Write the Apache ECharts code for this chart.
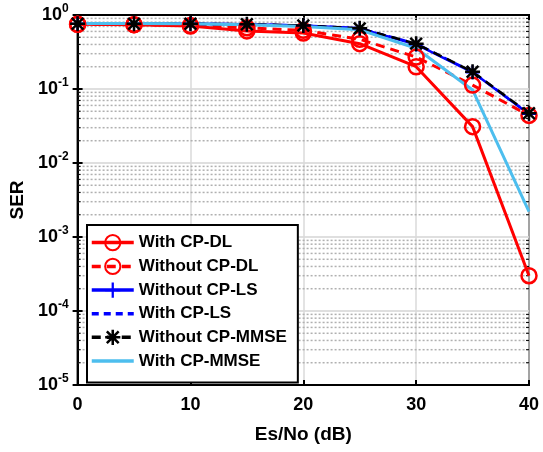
<!DOCTYPE html>
<html>
<head>
<meta charset="utf-8">
<script src="https://cdn.jsdelivr.net/npm/echarts@6/dist/echarts.min.js"></script>
<style>
html,body{margin:0;padding:0;background:#fff;}
#c{width:543px;height:452px;}
</style>
</head>
<body>
<div id="c"></div>
<script>
// ---- data ----
const snrDb = [0, 5, 10, 15, 20, 25, 30, 35, 40];
const withCpDl      = [0.75, 0.74, 0.71, 0.61, 0.57, 0.41, 0.20, 0.031, 0.0003];
const withoutCpDl   = [0.75, 0.74, 0.72, 0.67, 0.62, 0.47, 0.27, 0.113, 0.044];
const withoutCpLs   = [0.76, 0.76, 0.76, 0.75, 0.72, 0.66, 0.40, 0.168, 0.046];
const withCpLs      = [0.76, 0.76, 0.76, 0.75, 0.72, 0.66, 0.41, 0.170, 0.046];
const withoutCpMmse = [0.76, 0.76, 0.76, 0.75, 0.72, 0.66, 0.41, 0.171, 0.047];
const withCpMmse    = [0.77, 0.77, 0.76, 0.74, 0.70, 0.63, 0.355, 0.097, 0.0022];
const seriesNames = ['With CP-DL', 'Without CP-DL', 'Without CP-LS', 'With CP-LS', 'Without CP-MMSE', 'With CP-MMSE'];
const xTicks = [0, 10, 20, 30, 40];
const yDecadeExponents = [-5, -4, -3, -2, -1, 0];
const minorMantissas = [2, 3, 4, 5, 6, 7, 8, 9];

// minor grid values (2..9 x 10^k)
const minorVals = [];
yDecadeExponents.slice(0, -1).forEach(e => minorMantissas.forEach(m => minorVals.push(m * Math.pow(10, e))));

const FONT = "'Liberation Sans', Arial, sans-serif";
const starPath = 'path://M1,8.5L19,8.5L19,11.5L1,11.5Z M8.5,1L11.5,1L11.5,19L8.5,19Z M1.94,4.06L4.06,1.94L18.06,15.94L15.94,18.06Z M15.94,1.94L18.06,4.06L4.06,18.06L1.94,15.94Z';
const plusPath = 'path://M0,8.5L20,8.5L20,11.5L0,11.5Z M8.5,0L11.5,0L11.5,20L8.5,20Z';

function pairs(ys) { return snrDb.map((x, i) => [x, ys[i]]); }

const chart = echarts.init(document.getElementById('c'), null, {renderer: 'canvas'});

const axisLabelY = {
  fontFamily: FONT, fontWeight: 'bold', fontSize: 17, color: '#000', margin: 9,
  formatter: function (v) {
    const e = Math.round(Math.log10(v));
    return '{b|10}{s|' + e + '}';
  },
  rich: {
    b: {fontFamily: FONT, fontWeight: 'bold', fontSize: 18, color: '#000'},
    s: {fontFamily: FONT, fontWeight: 'bold', fontSize: 12, color: '#000', verticalAlign: 'top', padding: [0, 0, 12, 0]}
  }
};

const noSymbolLegend = {color: 'rgba(0,0,0,0)', borderColor: 'rgba(0,0,0,0)', borderWidth: 0, opacity: 0};

const option = {
  backgroundColor: '#fff',
  animation: false,
  grid: {left: 77, right: 14, top: 15, bottom: 67, show: true, borderColor: '#000', borderWidth: 2, backgroundColor: 'transparent'},
  legend: {
    data: seriesNames.map(n => (n === 'With CP-LS' || n === 'With CP-MMSE') ? {name: n, itemStyle: noSymbolLegend} : {name: n}),
    orient: 'vertical',
    left: 87, top: 225,
    padding: [9, 11, 13, 3],
    itemGap: 6.6,
    itemWidth: 42, itemHeight: 19,
    lineStyle: {width: 3.5},
    backgroundColor: '#fff',
    borderColor: '#000', borderWidth: 2,
    textStyle: {fontFamily: FONT, fontWeight: 'bold', fontSize: 17, color: '#000'},
    selectedMode: false
  },
  xAxis: [{
    type: 'value', min: 0, max: 40, interval: 10,
    name: 'Es/No (dB)', nameLocation: 'middle', nameGap: 40,
    nameTextStyle: {fontFamily: FONT, fontWeight: 'bold', fontSize: 19, color: '#000'},
    axisLine: {show: true, lineStyle: {color: '#000', width: 2}},
    axisTick: {show: true, inside: true, length: 5, lineStyle: {color: '#000', width: 2}},
    axisLabel: {fontFamily: FONT, fontWeight: 'bold', fontSize: 18, color: '#000', margin: 11,
      formatter: v => (xTicks.indexOf(v) >= 0 ? String(v) : '')},
    splitLine: {show: true, lineStyle: {color: '#dadada', width: 1.5}}
  }, {
    type: 'value', min: 0, max: 40, interval: 10, position: 'top',
    axisLine: {show: true, lineStyle: {color: '#000', width: 2}},
    axisTick: {show: true, inside: true, length: 5, lineStyle: {color: '#000', width: 2}},
    axisLabel: {show: false}, splitLine: {show: false}
  }],
  yAxis: [{
    type: 'log', logBase: 10, min: 1e-5, max: 1,
    name: 'SER', nameLocation: 'middle', nameGap: 50, nameRotate: 90,
    nameTextStyle: {fontFamily: FONT, fontWeight: 'bold', fontSize: 19, color: '#000'},
    axisLine: {show: true, lineStyle: {color: '#000', width: 2}},
    axisTick: {show: true, inside: true, length: 5, lineStyle: {color: '#000', width: 2}},
    axisLabel: axisLabelY,
    splitLine: {show: true, lineStyle: {color: '#d4d4d4', width: 1.5}}
  }, {
    type: 'log', logBase: 10, min: 1e-5, max: 1, position: 'right',
    axisLine: {show: true, lineStyle: {color: '#000', width: 2}},
    axisTick: {show: true, inside: true, length: 5, lineStyle: {color: '#000', width: 2}},
    axisLabel: {show: false}, splitLine: {show: false}
  }],
  series: [
    {
      type: 'custom', z: 1, silent: true,
      data: minorVals.map(v => [0, v]),
      encode: {x: 0, y: 1},
      renderItem: function (params, api) {
        const v = api.value(1);
        const p0 = api.coord([0, v]);
        const p1 = api.coord([40, v]);
        return {
          type: 'group',
          children: [
            {type: 'line', shape: {x1: p0[0] + 1, y1: p0[1], x2: p1[0] - 1, y2: p1[1]},
              style: {stroke: '#b0b0b0', lineWidth: 1.5, lineDash: [2, 2]}},
            {type: 'line', shape: {x1: p0[0], y1: p0[1], x2: p0[0] + 3, y2: p0[1]},
              style: {stroke: '#000', lineWidth: 1}},
            {type: 'line', shape: {x1: p1[0] - 3, y1: p1[1], x2: p1[0], y2: p1[1]},
              style: {stroke: '#000', lineWidth: 1}}
          ]
        };
      }
    },
    {
      name: seriesNames[0], type: 'line', data: pairs(withCpDl),
      symbol: 'circle', symbolSize: 15,
      lineStyle: {color: '#ff0000', width: 3, type: 'solid'},
      itemStyle: {color: 'rgba(255,255,255,0)', borderColor: '#ff0000', borderWidth: 2.5}
    },
    {
      name: seriesNames[1], type: 'line', data: pairs(withoutCpDl),
      symbol: 'circle', symbolSize: 15,
      lineStyle: {color: '#ff0000', width: 3, type: [9, 6]},
      itemStyle: {color: 'rgba(255,255,255,0)', borderColor: '#ff0000', borderWidth: 2.5}
    },
    {
      name: seriesNames[2], type: 'line', data: pairs(withoutCpLs),
      symbol: plusPath, symbolSize: 14,
      lineStyle: {color: '#0000ff', width: 2.5, type: 'solid'},
      itemStyle: {color: '#0000ff'}
    },
    {
      name: seriesNames[3], type: 'line', data: pairs(withCpLs),
      showSymbol: false, symbol: 'none',
      lineStyle: {color: '#0000ff', width: 2.5, type: [7, 5]},
      itemStyle: {color: '#0000ff'}
    },
    {
      name: seriesNames[4], type: 'line', data: pairs(withoutCpMmse),
      symbol: starPath, symbolSize: 15,
      lineStyle: {color: '#000000', width: 2.5, type: [9, 6]},
      itemStyle: {color: '#000000'}
    },
    {
      name: seriesNames[5], type: 'line', data: pairs(withCpMmse),
      showSymbol: false, symbol: 'none',
      lineStyle: {color: '#4dbeee', width: 3, type: 'solid'},
      itemStyle: {color: '#4dbeee'}
    }
  ]
};
chart.setOption(option);
</script>
</body>
</html>
